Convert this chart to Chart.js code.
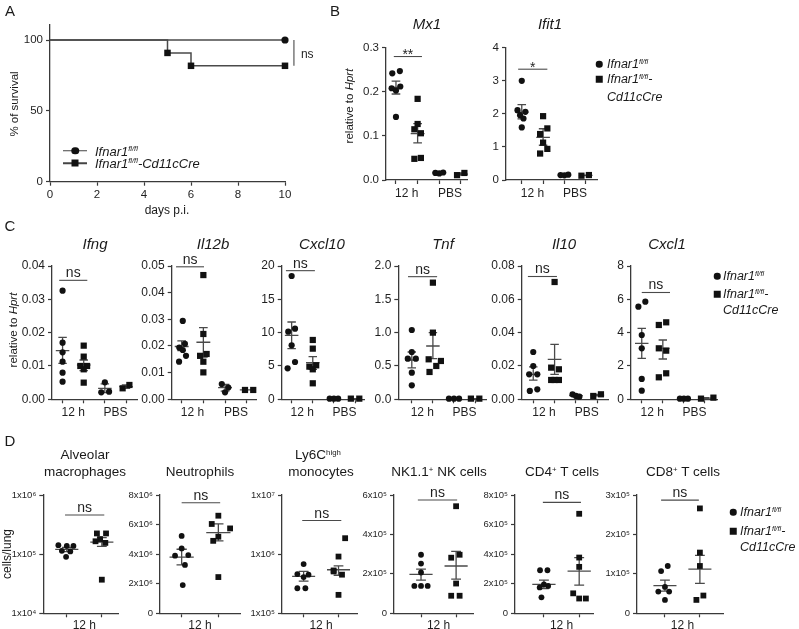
<!DOCTYPE html>
<html>
<head>
<meta charset="utf-8">
<title>Figure</title>
<script src="https://cdn.jsdelivr.net/npm/chart.js@4.4.1/dist/chart.umd.min.js"></script>
<style>
  body { margin: 0; background: #fff; }
  #fig { position: relative; width: 799px; height: 629px; overflow: hidden;
         font-family: "Liberation Sans", Arial, Helvetica, sans-serif; color: #1a1a1a; }
  #fig canvas { position: absolute; left: 0; top: 0; }
  .lbl { position: absolute; white-space: nowrap; line-height: 1; transform: translate(-50%, -50%); }
  .lbl.left { transform: translate(0, -50%); }
  .lbl.rot { transform: translate(-50%, -50%) rotate(-90deg); }
  .it { font-style: italic; }
  sup { font-size: 0.58em; vertical-align: 0.55em; line-height: 0; }
  .mk { position: absolute; background: #111; transform: translate(-50%, -50%); }
  .mk.dot { border-radius: 50%; }
  .ln { position: absolute; height: 1.5px; background: #444; transform: translateY(-50%); }
</style>
</head>
<body>
<div id="fig"></div>
<script>
// ---------- panel A: survival ----------
const survDaysWt = [0, 10];
const survWt = [100, 100];
const survDaysCre = [0, 5, 6, 10];
const survCre = [100, 90.9, 81.8, 81.8];
const survXTicks = [0, 2, 4, 6, 8, 10];
const survYTicks = [0, 50, 100];

// ---------- column plots: [x incl. scatter, value] ----------
// columns 1 / 3 = Ifnar1 fl/fl (12 h / PBS), 2 / 4 = Cd11cCre
const groupTicks = [1, 1.5, 2, 3, 3.5, 4];
const groupLabels = ['', '12 h', '', '', 'PBS', ''];
const cellTicks = [1, 1.5, 2];
const cellLabels = ['', '12 h', ''];

// mean rows: [column, mean, lower, upper]
const mx1Wt = [[0.83,0.242],[1.18,0.247],[1,0.143],[0.8,0.208],[1,0.203],[1.2,0.212],[2.82,0.016],[3,0.015],[3.18,0.017]];
const mx1Cre = [[2,0.184],[2,0.127],[1.85,0.115],[2.15,0.106],[1.85,0.048],[2.15,0.05],[3.82,0.011],[4.16,0.016]];
const mx1Mean = [[1,0.21,0.195,0.224],[2,0.105,0.084,0.128],[3,0.016,0.015,0.017],[4,0.0135,0.011,0.016]];
const mx1Ticks = [0, 0.1, 0.2, 0.3];

const ifit1Wt = [[1,3.0],[0.8,2.11],[1.17,2.06],[1.08,1.86],[0.92,1.96],[1,1.59],[2.82,0.15],[3,0.14],[3.18,0.16]];
const ifit1Cre = [[2,1.93],[2.2,1.56],[1.86,1.39],[2,1.13],[2.2,0.94],[1.86,0.8],[3.8,0.13],[4.15,0.15]];
const ifit1Mean = [[1,2.05,1.85,2.28],[2,1.29,1.05,1.55],[3,0.15,0.14,0.16],[4,0.14,0.13,0.15]];
const ifit1Ticks = [0, 1, 2, 3, 4];

const ifngWt = [[1,0.0326],[1,0.017],[1,0.0141],[1,0.0113],[1,0.008],[1,0.0053],[3,0.0051],[2.83,0.0021],[3.2,0.0023]];
const ifngCre = [[2,0.0161],[2,0.0128],[1.84,0.01],[2.16,0.01],[2,0.009],[2,0.005],[3.84,0.0033],[4.16,0.0043]];
const ifngMean = [[1,0.0146,0.0108,0.0186],[2,0.0103,0.0086,0.0118],[3,0.0033,0.002,0.0046],[4,0.0038,0.0033,0.0043]];
const ifngTicks = [0, 0.01, 0.02, 0.03, 0.04];

const il12bWt = [[1.05,0.0294],[1.15,0.0208],[0.89,0.0194],[1.05,0.0185],[1.2,0.0163],[0.88,0.0141],[2.85,0.0057],[3.15,0.0044],[3,0.0026]];
const il12bCre = [[2,0.0466],[2,0.0245],[1.85,0.0163],[2.15,0.017],[2,0.0141],[2,0.0101],[3.92,0.0035],[4.3,0.0035]];
const il12bMean = [[1,0.0198,0.0183,0.0219],[2,0.0214,0.0158,0.0269],[3,0.0044,0.0031,0.0056],[4,0.0035,0.0035,0.0035]];
const il12bTicks = [0, 0.01, 0.02, 0.03, 0.04, 0.05];

const cxcl10Wt = [[1,18.5],[0.84,10.15],[1.16,10.6],[1,8.1],[1.16,5.6],[0.81,4.65],[2.8,0.1],[3,0.1],[3.2,0.1]];
const cxcl10Cre = [[2,8.9],[2,7.6],[1.84,4.9],[2.16,5.1],[2,4.5],[2,2.4],[3.8,0.1],[4.2,0.1]];
const cxcl10Mean = [[1,9.6,7.6,11.6],[2,5.5,4.5,6.4],[3,0.1,0.1,0.1],[4,0.1,0.1,0.1]];
const cxcl10Ticks = [0, 5, 10, 15, 20];

const tnfWt = [[1,1.04],[1,0.71],[0.81,0.61],[1.19,0.61],[1,0.4],[1,0.21],[2.76,0.01],[3,0.01],[3.24,0.01]];
const tnfCre = [[2,1.75],[2,1.0],[1.8,0.6],[2.38,0.575],[2.16,0.5],[1.84,0.41],[3.8,0.01],[4.2,0.01]];
const tnfMean = [[1,0.59,0.47,0.71],[2,0.8,0.61,1.0],[3,0.01,0.01,0.01],[4,0.01,0.01,0.01]];
const tnfTicks = [0, 0.5, 1, 1.5, 2];

const il10Wt = [[1,0.0284],[1,0.02],[0.81,0.015],[1.19,0.015],[0.84,0.005],[1.19,0.006],[2.84,0.003],[3,0.002],[3.16,0.0016]];
const il10Cre = [[2,0.0704],[1.84,0.019],[2.2,0.018],[1.84,0.0116],[2,0.0116],[2.2,0.0116],[3.81,0.002],[4.17,0.003]];
const il10Mean = [[1,0.015,0.0115,0.0195],[2,0.024,0.015,0.033],[3,0.0022,0.0016,0.0028],[4,0.0025,0.002,0.003]];
const il10Ticks = [0, 0.02, 0.04, 0.06, 0.08];

const cxcl1Wt = [[0.84,5.56],[1.17,5.86],[1,3.86],[1,3.06],[1,1.22],[1,0.52],[2.81,0.04],[3,0.04],[3.19,0.04]];
const cxcl1Cre = [[1.81,4.46],[2.16,4.62],[1.81,3.06],[2.16,2.92],[1.81,1.32],[2.16,1.56],[3.81,0.04],[4.4,0.1]];
const cxcl1Mean = [[1,3.36,2.46,4.26],[2,3.06,2.42,3.56],[3,0.04,0.03,0.05],[4,0.07,0.04,0.1]];
const cxcl1Ticks = [0, 2, 4, 6, 8];

// panel D, cells per lung
const amWt = [[0.76,1.42e5],[1,1.38e5],[1.19,1.38e5],[0.86,1.14e5],[1.1,1.11e5],[0.98,0.9e5]];
const amCre = [[1.86,2.24e5],[2.12,2.24e5],[1.95,1.8e5],[2.1,1.55e5],[1.82,1.65e5],[2,3.7e4]];
const amMean = [[1,1.2e5,1.1e5,1.3e5],[2,1.6e5,1.35e5,1.9e5]];
const amTicks = [1e4, 1e5, 1e6];

const neuWt = [[1,5.23e6],[1,4.39e6],[0.82,3.9e6],[1.18,3.94e6],[1.09,3.27e6],[1.03,1.91e6]];
const neuCre = [[2,6.6e6],[1.82,6.04e6],[2.32,5.74e6],[2,5.18e6],[1.86,4.9e6],[2,2.45e6]];
const neuMean = [[1,3.8e6,3.27e6,4.33e6],[2,5.45e6,4.9e6,6.05e6]];
const neuTicks = [0, 2e6, 4e6, 6e6, 8e6];

const ly6cWt = [[1,6.8e5],[0.82,4.6e5],[1.14,4.5e5],[1,4.1e5],[0.82,2.65e5],[1.05,2.65e5]];
const ly6cCre = [[2.19,1.86e6],[2,9.1e5],[1.86,5.1e5],[2.1,4.5e5],[2,2.05e5],[1.86,5.3e5]];
const ly6cMean = [[1,4.2e5,3.5e5,5.1e5],[2,5.45e5,4.4e5,6.35e5]];
const ly6cTicks = [1e5, 1e6, 1e7];

const nkWt = [[1,2.97e5],[1,2.52e5],[1,2.07e5],[0.81,1.39e5],[1,1.39e5],[1.19,1.39e5]];
const nkCre = [[2,5.43e5],[1.86,2.82e5],[2.1,2.97e5],[2,1.51e5],[1.86,0.89e5],[2.1,0.89e5]];
const nkMean = [[1,1.97e5,1.68e5,2.24e5],[2,2.4e5,1.73e5,3.14e5]];
const nkTicks = [0, 2e5, 4e5, 6e5];

const cd4Wt = [[0.89,2.91e5],[1.1,2.91e5],[1.12,1.85e5],[0.88,1.75e5],[1,1.95e5],[0.93,1.08e5]];
const cd4Cre = [[2,6.73e5],[2,3.77e5],[2,3.14e5],[1.83,1.35e5],[2,1.0e5],[2.19,1.0e5]];
const cd4Mean = [[1,1.95e5,1.67e5,2.24e5],[2,2.85e5,1.9e5,3.77e5]];
const cd4Ticks = [0, 2e5, 4e5, 6e5, 8e5];

const cd8Wt = [[1.08,1.2e5],[0.89,1.07e5],[0.81,0.55e5],[1.12,0.55e5],[1,0.34e5],[1,0.67e5]];
const cd8Cre = [[2,2.66e5],[2,1.54e5],[2,1.2e5],[2.1,0.45e5],[1.9,0.34e5]];
const cd8Mean = [[1,0.7e5,0.56e5,0.84e5],[2,1.12e5,0.76e5,1.47e5]];
const cd8Ticks = [0, 1e5, 2e5, 3e5];

// ---------- drawing ----------
const W = 799, H = 629;
const FONT = '"Liberation Sans", Arial, Helvetica, sans-serif';
const INK = '#111';
const TXT = '#1f1f1f';
const AXIS = '#3a3a3a';
const LINE = '#4a4a4a';
const YW = 40;   // fixed width of every y scale box
Chart.defaults.font.family = FONT;
Chart.defaults.color = TXT;

const fig = document.getElementById('fig');

function newCanvas() {
  const c = document.createElement('canvas');
  c.width = W; c.height = H;
  c.style.width = W + 'px'; c.style.height = H + 'px';
  fig.appendChild(c);
  return c;
}

const SUP = '⁰¹²³⁴⁵⁶⁷⁸⁹';
function sci(v) {
  if (v === 0) return '0';
  const e = Math.floor(Math.log10(v) + 1e-9);
  return Math.round(v / Math.pow(10, e)) + 'x10' + SUP[e];
}
const fixed = d => v => v.toFixed(d);

function meanSem(rows, half, cap) {
  return {
    id: 'meanSem',
    beforeDatasetsDraw(chart) {
      const { ctx, scales: { x, y } } = chart;
      ctx.save();
      ctx.strokeStyle = LINE;
      ctx.lineWidth = 1.3;
      ctx.beginPath();
      for (const [c, m, lo, hi] of rows) {
        const px = x.getPixelForValue(c);
        const hw = x.getPixelForValue(c + half) - px;
        const cw = x.getPixelForValue(c + cap) - px;
        const pm = y.getPixelForValue(m), pl = y.getPixelForValue(lo), ph = y.getPixelForValue(hi);
        ctx.moveTo(px - hw, pm); ctx.lineTo(px + hw, pm);
        if (ph < pl - 0.5) {
          ctx.moveTo(px, pl); ctx.lineTo(px, ph);
          ctx.moveTo(px - cw, pl); ctx.lineTo(px + cw, pl);
          ctx.moveTo(px - cw, ph); ctx.lineTo(px + cw, ph);
        }
      }
      ctx.stroke();
      ctx.restore();
    }
  };
}

// significance bar: [x from, x to, value, text]
function sigBar(bar, size, dy) {
  return {
    id: 'sig',
    afterDraw(chart) {
      const { ctx, scales: { x, y } } = chart;
      const [a, b, v, text] = bar;
      const pa = x.getPixelForValue(a), pb = x.getPixelForValue(b), py = y.getPixelForValue(v);
      ctx.save();
      ctx.strokeStyle = LINE;
      ctx.lineWidth = 1.1;
      ctx.beginPath(); ctx.moveTo(pa, py); ctx.lineTo(pb, py); ctx.stroke();
      ctx.fillStyle = TXT;
      ctx.font = size + 'px ' + FONT;
      ctx.textAlign = 'center';
      ctx.textBaseline = 'alphabetic';
      ctx.fillText(text, (pa + pb) / 2, py + dy);
      ctx.restore();
    }
  };
}

function columnChart(o) {
  const [x0, y0, x1, y1] = o.area;
  const XH = Math.min(24, H - y1);
  const pts = a => a.map(([x, y]) => ({ x, y }));
  const last = o.yTicks[o.yTicks.length - 1];
  new Chart(newCanvas(), {
    type: 'scatter',
    data: {
      datasets: [
        { data: pts(o.wt), pointStyle: 'circle', pointRadius: o.dot, pointBackgroundColor: INK,
          pointBorderWidth: 0, clip: false },
        { data: pts(o.cre), pointStyle: 'rect', pointRadius: o.sq, pointBackgroundColor: INK,
          pointBorderWidth: 0, clip: false }
      ]
    },
    options: {
      responsive: false,
      animation: false,
      events: [],
      layout: { autoPadding: false,
                padding: { left: x0 - YW, top: y0, right: W - x1, bottom: H - y1 - XH } },
      plugins: { legend: { display: false }, tooltip: { enabled: false } },
      scales: {
        x: {
          type: 'linear', min: o.xMin, max: o.xMax,
          afterFit: s => { s.height = XH; },
          afterBuildTicks: s => { s.ticks = o.xTicks.map(v => ({ value: v })); },
          ticks: { autoSkip: false, maxRotation: 0, padding: o.xPad, font: { size: 12 }, color: TXT,
                   callback: v => o.xLabels[o.xTicks.indexOf(v)] },
          grid: { drawOnChartArea: false, tickLength: 4, tickWidth: 1.2,
                  tickColor: c => (c.tick && Number.isInteger(c.tick.value)) ? AXIS : 'rgba(0,0,0,0)' },
          border: { color: AXIS, width: 1.3 }
        },
        y: {
          type: o.log ? 'logarithmic' : 'linear', min: o.yTicks[0], max: last,
          afterFit: s => { s.width = YW; },
          afterBuildTicks: s => { s.ticks = o.yTicks.map(v => ({ value: v })); },
          ticks: { autoSkip: false, padding: 3, font: { size: o.yFont }, color: TXT, callback: v => o.yFmt(v) },
          grid: { drawOnChartArea: false, tickLength: 4, tickWidth: 1.2, tickColor: AXIS },
          border: { color: AXIS, width: 1.3 }
        }
      }
    },
    plugins: [meanSem(o.mean, o.half, o.cap), sigBar(o.sig, o.sigSize, o.sigDy)]
  });
}

// ---------- panel A chart ----------
new Chart(newCanvas(), {
  type: 'scatter',
  data: {
    datasets: [
      { data: survDaysWt.map((d, i) => ({ x: d, y: survWt[i] })), showLine: true,
        borderColor: LINE, borderWidth: 1.5, pointStyle: 'circle',
        pointRadius: survDaysWt.map(d => d === 0 ? 0 : 3.6), pointBackgroundColor: INK,
        pointBorderWidth: 0, clip: false },
      { data: survDaysCre.map((d, i) => ({ x: d, y: survCre[i] })), showLine: true, stepped: true,
        borderColor: LINE, borderWidth: 1.5, pointStyle: 'rect',
        pointRadius: survDaysCre.map(d => d === 0 ? 0 : 4.6), pointBackgroundColor: INK,
        pointBorderWidth: 0, clip: false }
    ]
  },
  options: {
    responsive: false, animation: false, events: [],
    layout: { autoPadding: false, padding: { left: 50 - YW, top: 25, right: W - 285, bottom: H - 181.7 - 24 } },
    plugins: { legend: { display: false }, tooltip: { enabled: false } },
    scales: {
      x: {
        type: 'linear', min: 0, max: 10,
        afterFit: s => { s.height = 24; },
        afterBuildTicks: s => { s.ticks = survXTicks.map(v => ({ value: v })); },
        ticks: { padding: 2, font: { size: 11.5 }, color: TXT, maxRotation: 0 },
        grid: { drawOnChartArea: false, tickLength: 4, tickWidth: 1.2, tickColor: AXIS },
        border: { color: AXIS, width: 1.3 }
      },
      y: {
        type: 'linear', min: 0, max: 110.6,
        afterFit: s => { s.width = YW; },
        afterBuildTicks: s => { s.ticks = survYTicks.map(v => ({ value: v })); },
        ticks: { padding: 3, font: { size: 11.5 }, color: TXT },
        grid: { drawOnChartArea: false, tickLength: 4, tickWidth: 1.2, tickColor: AXIS },
        border: { color: AXIS, width: 1.3 }
      }
    }
  },
  plugins: [{
    id: 'survNs',
    afterDraw(chart) {
      const { ctx, scales: { x, y } } = chart;
      const px = x.getPixelForValue(10.38);
      ctx.save();
      ctx.strokeStyle = LINE; ctx.lineWidth = 1.1;
      ctx.beginPath(); ctx.moveTo(px, y.getPixelForValue(100)); ctx.lineTo(px, y.getPixelForValue(81.8)); ctx.stroke();
      ctx.fillStyle = TXT; ctx.font = '12px ' + FONT; ctx.textBaseline = 'alphabetic';
      ctx.fillText('ns', px + 7, y.getPixelForValue(87.5));
      ctx.restore();
    }
  }]
});

// ---------- panel B, C, D charts ----------
const BC = { xTicks: groupTicks, xLabels: groupLabels, xPad: 2, dot: 3.1, sq: 4.4, half: 0.32, cap: 0.2, sigSize: 14 };
const Dc = { xTicks: cellTicks, xLabels: cellLabels, xPad: 1, dot: 2.9, sq: 4.1, half: 0.33, cap: 0.14,
             sigSize: 14, sigDy: -3, yFont: 9.5, yFmt: sci };

columnChart({ ...BC, area: [386, 47.7, 467, 180], xMin: 0.54, xMax: 4.28, yTicks: mx1Ticks, yFont: 11.5,
  yFmt: fixed(1), wt: mx1Wt, cre: mx1Cre, mean: mx1Mean, sig: [0.9, 2.2, 0.28, '**'], sigDy: 2.5 });
columnChart({ ...BC, area: [506, 47.7, 597, 180], xMin: 0.26, xMax: 4.53, yTicks: ifit1Ticks, yFont: 11.5,
  yFmt: fixed(0), wt: ifit1Wt, cre: ifit1Cre, mean: ifit1Mean, sig: [0.83, 2.2, 3.35, '*'], sigDy: 3 });

const C = { ...BC, yFont: 12, sigDy: -3 };
columnChart({ ...C, area: [52, 266, 137, 399.3], xMin: 0.5, xMax: 4.52, yTicks: ifngTicks, yFmt: fixed(2),
  wt: ifngWt, cre: ifngCre, mean: ifngMean, sig: [0.84, 2.17, 0.0357, 'ns'] });
columnChart({ ...C, area: [171.7, 266, 256.7, 399.3], xMin: 0.54, xMax: 4.46, yTicks: il12bTicks, yFmt: fixed(2),
  wt: il12bWt, cre: il12bCre, mean: il12bMean, sig: [0.74, 2.03, 0.0497, 'ns'] });
columnChart({ ...C, area: [281.7, 266, 365, 399.3], xMin: 0.53, xMax: 4.47, yTicks: cxcl10Ticks, yFmt: fixed(0),
  wt: cxcl10Wt, cre: cxcl10Cre, mean: cxcl10Mean, sig: [0.73, 2.1, 19.3, 'ns'] });
columnChart({ ...C, area: [398.3, 266, 486.7, 399.3], xMin: 0.36, xMax: 4.55, yTicks: tnfTicks, yFmt: fixed(1),
  wt: tnfWt, cre: tnfCre, mean: tnfMean, sig: [0.82, 2.2, 1.84, 'ns'] });
columnChart({ ...C, area: [521.7, 266, 608, 399.3], xMin: 0.46, xMax: 4.5, yTicks: il10Ticks, yFmt: fixed(2),
  wt: il10Wt, cre: il10Cre, mean: il10Mean, sig: [0.75, 2.11, 0.0737, 'ns'] });
columnChart({ ...C, area: [631, 266, 717, 399.3], xMin: 0.49, xMax: 4.57, yTicks: cxcl1Ticks, yFmt: fixed(0),
  wt: cxcl1Wt, cre: cxcl1Cre, mean: cxcl1Mean, sig: [1.0, 2.34, 6.41, 'ns'] });

columnChart({ ...Dc, area: [43.3, 495, 118.3, 613.3], xMin: 0.33, xMax: 2.47, log: true, yTicks: amTicks,
  wt: amWt, cre: amCre, mean: amMean, sig: [0.95, 2.07, 4.6e5, 'ns'] });
columnChart({ ...Dc, area: [160, 495, 240, 613.3], xMin: 0.41, xMax: 2.59, yTicks: neuTicks,
  wt: neuWt, cre: neuCre, mean: neuMean, sig: [1.0, 2.05, 7.48e6, 'ns'] });
columnChart({ ...Dc, area: [282, 495, 357, 613.3], xMin: 0.38, xMax: 2.53, log: true, yTicks: ly6cTicks,
  wt: ly6cWt, cre: ly6cCre, mean: ly6cMean, sig: [0.96, 2.08, 3.7e6, 'ns'] });
columnChart({ ...Dc, area: [394, 495, 473.3, 613.3], xMin: 0.23, xMax: 2.49, yTicks: nkTicks,
  wt: nkWt, cre: nkCre, mean: nkMean, sig: [0.91, 2.03, 5.75e5, 'ns'] });
columnChart({ ...Dc, area: [515, 495, 593.3, 613.3], xMin: 0.18, xMax: 2.4, yTicks: cd4Ticks,
  wt: cd4Wt, cre: cd4Cre, mean: cd4Mean, sig: [0.97, 2.05, 7.5e5, 'ns'] });
columnChart({ ...Dc, area: [637, 495, 723.3, 613.3], xMin: 0.2, xMax: 2.67, yTicks: cd8Ticks,
  wt: cd8Wt, cre: cd8Cre, mean: cd8Mean, sig: [0.89, 1.97, 2.87e5, 'ns'] });

// ---------- text ----------
function text(html, x, y, size, cls) {
  const d = document.createElement('div');
  d.className = 'lbl ' + (cls || '');
  d.style.left = x + 'px';
  d.style.top = y + 'px';
  d.style.fontSize = size + 'px';
  d.innerHTML = html;
  fig.appendChild(d);
}
function marker(x, y, shape, s) {
  const d = document.createElement('div');
  d.className = 'mk ' + shape;
  d.style.left = x + 'px'; d.style.top = y + 'px';
  d.style.width = s + 'px'; d.style.height = s + 'px';
  fig.appendChild(d);
}
function legendLine(x0, x1, y) {
  const d = document.createElement('div');
  d.className = 'ln';
  d.style.left = x0 + 'px'; d.style.top = y + 'px'; d.style.width = (x1 - x0) + 'px';
  fig.appendChild(d);
}

const WT = '<span class="it">Ifnar1<sup>fl/fl</sup></span>';
const CRE1 = '<span class="it">Ifnar1<sup>fl/fl</sup>-</span>';
const CRE2 = '<span class="it">Cd11cCre</span>';

text('A', 10, 10, 15); text('B', 335, 10, 15); text('C', 10, 225, 15); text('D', 10, 440, 15);

// A
text('% of survival', 15, 104, 11.5, 'rot');
text('days p.i.', 167, 210, 12);
legendLine(63, 87, 150.5); marker(75, 150.5, 'dot', 7.5);
legendLine(63, 87, 163); marker(75, 163, '', 7);
text(WT, 95, 150.5, 13, 'left');
text('<span class="it">Ifnar1<sup>fl/fl</sup>-Cd11cCre</span>', 95, 163, 13, 'left');

// B
text('Mx1', 427, 23, 15, 'it');
text('Ifit1', 550, 23, 15, 'it');
text('relative to <i>Hprt</i>', 350, 106, 11.5, 'rot');
marker(599, 64, 'dot', 6.5); text(WT, 607, 64, 12.5, 'left');
marker(599, 79, '', 6.5); text(CRE1, 607, 79, 12.5, 'left'); text(CRE2, 607, 97, 12.5, 'left');

// C
const cTitles = ['Ifng', 'Il12b', 'Cxcl10', 'Tnf', 'Il10', 'Cxcl1'];
const cTitleX = [95, 213, 322, 443, 564, 667];
cTitles.forEach((t, i) => text(t, cTitleX[i], 243, 15, 'it'));
text('relative to <i>Hprt</i>', 14, 330, 11.5, 'rot');
marker(717, 276, 'dot', 6.5); text(WT, 723, 276, 12.5, 'left');
marker(717, 294, '', 6.5); text(CRE1, 723, 294, 12.5, 'left'); text(CRE2, 723, 310, 12.5, 'left');

// D
text('Alveolar', 85, 455, 13.5); text('macrophages', 85, 471.5, 13.5);
text('Neutrophils', 200, 471.5, 13.5);
text('Ly6C<sup>high</sup>', 318, 455, 13.5); text('monocytes', 321, 471.5, 13.5);
text('NK1.1<sup>+</sup> NK cells', 439, 471.5, 13.5);
text('CD4<sup>+</sup> T cells', 562, 471.5, 13.5);
text('CD8<sup>+</sup> T cells', 683, 471.5, 13.5);
text('cells/lung', 7, 554, 12, 'rot');
marker(733, 512, 'dot', 6.5); text(WT, 740, 512, 12.5, 'left');
marker(733, 531, '', 6.5); text(CRE1, 740, 531, 12.5, 'left'); text(CRE2, 740, 547, 12.5, 'left');
</script>
</body>
</html>
